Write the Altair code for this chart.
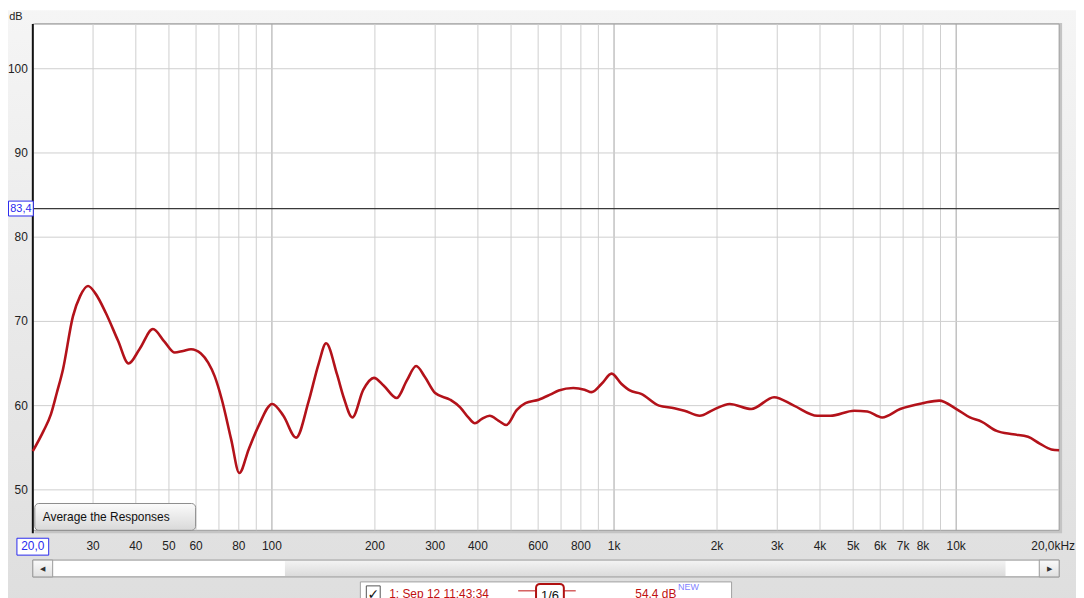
import altair as alt
import pandas as pd

# ---------------- data ----------------
freq_hz = [20, 21.5, 22.6, 23.5, 24.5, 26.2, 27.5, 29.0, 30.5, 32.7, 35.5, 38.1, 41.0, 44.9,
           48.5, 52.0, 55.0, 58.0, 62.0, 65.1, 68.0, 71.4, 76.0, 80.3, 85.5, 91.4, 100.2, 108,
           117.7, 128, 137, 144, 155, 162, 171.8, 185, 198.7, 212, 231.6, 248, 264, 280, 300,
           332, 355, 375, 392, 410, 433, 460, 484, 520, 551, 602, 650, 689, 760, 820, 860, 920,
           984, 1050, 1112, 1200, 1354, 1500, 1606, 1780, 1950, 2178, 2518, 2936, 3356, 3925,
           4290, 5034, 5500, 6075, 6861, 8017, 8920, 10020, 10970, 11860, 13130, 14670, 16220,
           17550, 18980, 20000]
spl_db = [54.6, 57.0, 59.0, 61.5, 64.3, 70.6, 73.0, 74.2, 73.3, 71.0, 67.7, 65.0, 66.7, 69.1,
          67.6, 66.3, 66.5, 66.7, 66.2, 65.1, 63.5, 60.7, 56.0, 52.0, 54.8, 57.6, 60.2, 58.8,
          56.2, 60.5, 65.0, 67.4, 63.7, 61.0, 58.6, 61.9, 63.3, 62.4, 60.9, 63.0, 64.7, 63.4, 61.5,
          60.7, 59.8, 58.6, 57.9, 58.4, 58.8, 58.2, 57.7, 59.5, 60.3, 60.7, 61.3, 61.8, 62.1, 61.9,
          61.6, 62.6, 63.8, 62.6, 61.8, 61.4, 60.0, 59.7, 59.4, 58.8, 59.5, 60.2, 59.6, 61.0, 60.0,
          58.8, 58.8, 59.4, 59.3, 58.6, 59.6, 60.3, 60.6, 59.6, 58.6, 58.1, 57.0, 56.6, 56.3,
          55.5, 54.8, 54.7]

grid_minor_hz = [30, 40, 50, 60, 70, 80, 90, 200, 300, 400, 500, 600, 700, 800, 900,
                 2000, 3000, 4000, 5000, 6000, 7000, 8000, 9000]
grid_major_hz = [100, 1000, 10000]
xtick_hz = [30, 40, 50, 60, 80, 100, 200, 300, 400, 600, 800, 1000, 2000, 3000, 4000,
            5000, 6000, 7000, 8000, 10000]
xtick_labels = ["30", "40", "50", "60", "80", "100", "200", "300", "400", "600", "800", "1k",
                "2k", "3k", "4k", "5k", "6k", "7k", "8k", "10k"]
ytick_db = [50, 60, 70, 80, 90, 100]
marker_db = 83.4

W, H = 1034, 510
FONT = "Liberation Sans"
xs = alt.Scale(type="log", domain=[20, 20000], nice=False)
ys = alt.Scale(domain=[45.2, 105.3], nice=False, zero=False)

one = pd.DataFrame({"k": [0]})


def box(x, x2, y, y2, **kw):
    return alt.Chart(one).mark_rect(**kw).encode(
        x=alt.value(x), x2=alt.value(x2), y=alt.value(y), y2=alt.value(y2))


def label(txt, x, y, font=FONT, **kw):
    return alt.Chart(pd.DataFrame({"t": [txt]})).mark_text(font=font, **kw).encode(
        text="t:N", x=alt.value(x), y=alt.value(y))


def grad(c1, c2):
    return alt.Gradient(gradient="linear", x1=0, x2=0, y1=0, y2=1,
                        stops=[alt.GradientStop(color=c1, offset=0),
                               alt.GradientStop(color=c2, offset=1)])


curve = pd.DataFrame({"f": freq_hz, "db": spl_db})

background = box(-25, W + 17, -14, H + 80, color=grad("#f5f5f5", "#dedede"))
shadow = box(2, W + 3, -1, H + 3, color="#c4c4c4")
plot_bg = box(0, W, 0, H, color="white", stroke="#9c9c9c", strokeWidth=1)

vminor = alt.Chart(pd.DataFrame({"f": grid_minor_hz})).mark_rule(
    color="#cfcfcf", strokeWidth=1).encode(
    x=alt.X("f:Q", scale=xs, axis=None), y=alt.value(0), y2=alt.value(H))
vmajor = alt.Chart(pd.DataFrame({"f": grid_major_hz})).mark_rule(
    color="#a2a2a2", strokeWidth=1).encode(
    x=alt.X("f:Q", scale=xs, axis=None), y=alt.value(0), y2=alt.value(H))
hgrid = alt.Chart(pd.DataFrame({"d": ytick_db})).mark_rule(
    color="#cfcfcf", strokeWidth=1).encode(
    y=alt.Y("d:Q", scale=ys, axis=None), x=alt.value(0), x2=alt.value(W))
marker = alt.Chart(pd.DataFrame({"d": [marker_db]})).mark_rule(
    color="#3a3a3a", strokeWidth=1.2).encode(
    y=alt.Y("d:Q", scale=ys, axis=None), x=alt.value(0), x2=alt.value(W))
left_axis = alt.Chart(one).mark_rule(color="#111111", strokeWidth=2).encode(
    x=alt.value(0), y=alt.value(0), y2=alt.value(H + 3))

line = alt.Chart(curve).mark_line(
    color="#b3121a", strokeWidth=2.6, interpolate="monotone").encode(
    x=alt.X("f:Q", scale=xs, axis=None), y=alt.Y("db:Q", scale=ys, axis=None))

# button
button = box(2, 164, 483, 510, color=grad("#fbfbfb", "#d9d9d9"), stroke="#8c8c8c",
             strokeWidth=1, cornerRadius=4)
button_txt = label("Average the Responses", 10, 497, align="left", baseline="middle",
                   fontSize=12, color="#111111")

# y labels
ylab = alt.Chart(pd.DataFrame({"d": ytick_db})).mark_text(
    font=FONT, fontSize=12, align="right", baseline="middle", color="#222222").encode(
    y=alt.Y("d:Q", scale=ys, axis=None), x=alt.value(-5), text="d:Q")
db_title = label("dB", -17, -7, align="center", baseline="middle", fontSize=11,
                 color="#222222")
mk_box = alt.Chart(pd.DataFrame({"d": [marker_db]})).mark_rect(
    fill="white", stroke="#2a2aee", strokeWidth=1, height=15, width=25).encode(
    y=alt.Y("d:Q", scale=ys, axis=None), x=alt.value(-12))
mk_txt = alt.Chart(pd.DataFrame({"d": [marker_db], "t": ["83,4"]})).mark_text(
    font=FONT, fontSize=11, color="#2a2aee", align="center", baseline="middle").encode(
    y=alt.Y("d:Q", scale=ys, axis=None), x=alt.value(-12), text="t:N")

# x labels
xlab = alt.Chart(pd.DataFrame({"f": xtick_hz, "t": xtick_labels})).mark_text(
    font=FONT, fontSize=12, align="center", baseline="middle", color="#222222").encode(
    x=alt.X("f:Q", scale=xs, axis=None), y=alt.value(H + 16), text="t:N")
x0_box = box(-16, 16, H + 8, H + 25, fill="white", stroke="#2a2aee", strokeWidth=1)
x0_txt = label("20,0", 0, H + 16, align="center", baseline="middle", fontSize=12,
               color="#2a2aee")
xend_txt = label("20,0kHz", W + 16, H + 16, align="right", baseline="middle", fontSize=12,
                 color="#222222")

# scrollbar
sb_track = box(0, W, 540, 557, color=grad("#f4f4f4", "#dadada"), stroke="#9a9a9a",
               strokeWidth=1)
sb_thumb1 = box(20, 254, 541, 556, color="white")
sb_thumb2 = box(980, 1014, 541, 556, color="white")
sb_btn_l = box(0, 20, 540, 557, color=grad("#fafafa", "#e0e0e0"), stroke="#9a9a9a",
               strokeWidth=1)
sb_btn_r = box(1014, W, 540, 557, color=grad("#fafafa", "#e0e0e0"), stroke="#9a9a9a",
               strokeWidth=1)
arr_l = label("◀", 10, 549, align="center", baseline="middle", fontSize=7,
              color="#333333")
arr_r = label("▶", 1024, 549, align="center", baseline="middle", fontSize=7,
              color="#333333")

# legend strip (partly visible, cut by the window edge as in the reference)
leg_box = box(330, 704, 562, 600, color="white", stroke="#a0a0a0", strokeWidth=1)
leg_chk = box(336, 350, 566, 582, color="white", stroke="#555555", strokeWidth=1)
leg_tick = label("✓", 343, 575, align="center", baseline="middle", fontSize=14,
                 color="#111111", font="DejaVu Sans")
leg_name = label("1: Sep 12 11:43:34", 359, 578, align="left", baseline="alphabetic",
                 fontSize=12, color="#c01010")
leg_line = alt.Chart(one).mark_rule(color="#c01010", strokeWidth=1).encode(
    x=alt.value(489), x2=alt.value(547), y=alt.value(571))
leg_sm = box(507, 535, 564, 600, color="white", stroke="#b01010", strokeWidth=2,
             cornerRadius=4)
leg_sm_txt = label("1/6", 521, 580, align="center", baseline="alphabetic", fontSize=13,
                   color="#111111")
leg_lvl = label("54,4 dB", 607, 578, align="left", baseline="alphabetic", fontSize=12,
                color="#c01010")
leg_new = label("NEW", 650, 570, align="left", baseline="alphabetic", fontSize=9,
                color="#7f7fff")

chart = alt.layer(
    background, shadow, plot_bg, vminor, vmajor, hgrid, marker, left_axis, line,
    button, button_txt, ylab, db_title, mk_box, mk_txt,
    xlab, x0_box, x0_txt, xend_txt,
    sb_track, sb_thumb1, sb_thumb2, sb_btn_l, sb_btn_r, arr_l, arr_r,
    leg_box, leg_chk, leg_tick, leg_name, leg_line, leg_sm, leg_sm_txt, leg_lvl, leg_new,
).properties(
    width=W, height=H,
    autosize=alt.AutoSizeParams(type="none"),
    padding={"left": 25, "top": 14, "right": 17, "bottom": 66},
).configure_view(stroke=None, fill=None)

chart.save("out.html", embed_options={"renderer": "svg", "actions": False})
